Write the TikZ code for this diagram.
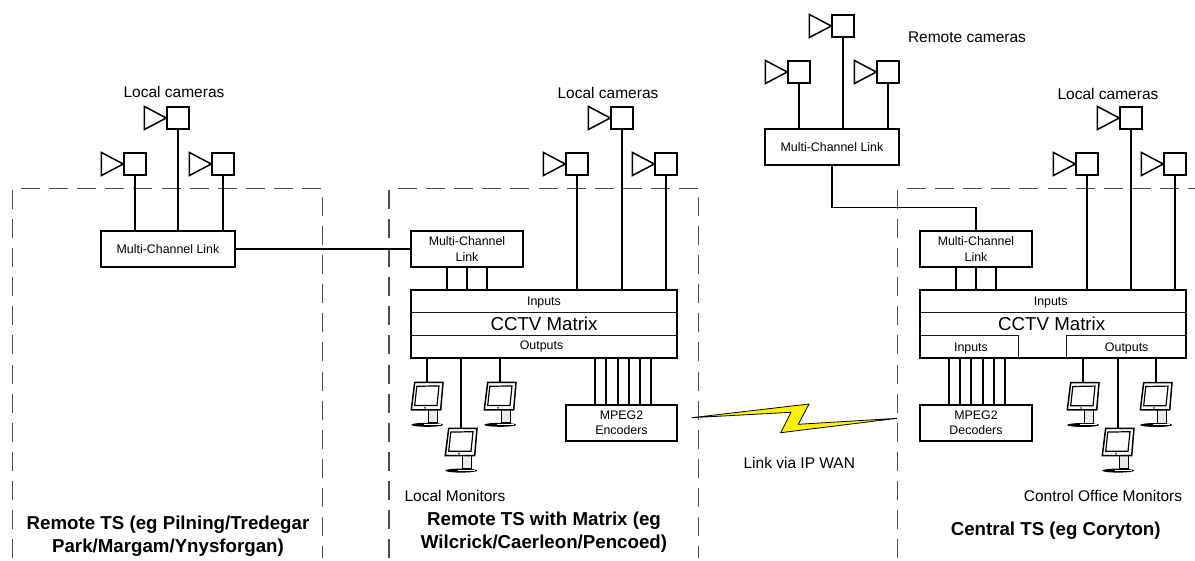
\documentclass[tikz,border=0pt]{standalone}
\usepackage{fontspec}
\setmainfont{Liberation Sans}
\usepackage{xcolor}
\usepackage{tikz}
\usetikzlibrary{positioning}

\begin{document}
\begin{tikzpicture}[x=1pt, y=-1pt,
    box/.style={rectangle, draw, line width=1.5pt, inner sep=0pt, align=center, font=\fontsize{12.4}{15.4}\selectfont},
    linkbox/.style={box, minimum width=134pt, minimum height=36pt},
    smallbox/.style={box, minimum width=112pt, minimum height=36pt},
    matrixbox/.style={box, minimum width=266pt, minimum height=68pt},
    wire/.style={line width=1.5pt},
    thinwire/.style={line width=1.1pt, black!90},
    zoneh/.style={line width=1.1pt, black!70, dash pattern=on 19pt off 9.1pt},
    zonev/.style={line width=1.1pt, black!70, dash pattern=on 19pt off 10.1pt},
    lbl/.style={inner sep=0pt, align=center, font=\fontsize{15.5}{18}\selectfont},
    band/.style={inner sep=0pt, font=\fontsize{12.4}{15}\selectfont},
    ctv/.style={inner sep=0pt, font=\fontsize{18.7}{22}\selectfont},
    title/.style={inner sep=0pt, align=center, font=\bfseries\fontsize{18.7}{22.5}\selectfont},
    cam/.style={rectangle, draw, line width=1.5pt, minimum size=22pt, inner sep=0pt,
        append after command={\pgfextra{\draw[line width=1.5pt, line join=miter]
            (\tikzlastnode.west) -- ++(-22,-11.6) -- ++(0,23.2) -- cycle;}}},
    monitor/.pic={
        \fill[black] (0.2,42.3) ellipse (16 and 2);
        \fill[white] (-3,41.8) rectangle (14,42.6);
        \draw[line width=1pt, fill=black!8] (1.7,27.3) rectangle (10.5,40.5);
        \draw[line width=1.5pt, fill=white] (-12.3,0) -- (16,0) -- (13.7,27.3) -- (-15.7,27.3) -- cycle;
        \draw[line width=1.2pt, fill=white] (-10.2,3.8) -- (12,3.4) -- (10,23) -- (-12.3,23) -- cycle;
        \fill[teal] (-2,25.3) circle (1.2);
        \coordinate (-top) at (0,0);
    }
]
\useasboundingbox (0,0) rectangle (1195,561);

% zones
\draw[zoneh] (21,188.5) -- (322,188.5);
\draw[zonev] (12.5,190) -- (12.5,558);
\draw[zonev] (322.5,197) -- (322.5,558);
\draw[zoneh] (398,188.5) -- (698,188.5);
\draw[zonev] (389,190) -- (389,558);
\draw[zonev] (698.5,197) -- (698.5,558);
\draw[zoneh] (907,188.5) -- (1195,188.5);
\draw[zonev] (897.5,190) -- (897.5,558);

% left site
\node[linkbox] (lnka) at (168,249) {Multi-Channel Link};
\node[cam] (cama) at (135,164) {};
\node[cam] (camb) at (178,118) {};
\node[cam] (camc) at (223,164) {};
\node[lbl] (loca) at (174,91.5) {Local cameras};
\foreach \c in {cama,camb,camc}
    \draw[wire] (\c.south) -- (\c.south |- lnka.north);
\node[title] (ttla) at (168,536) {Remote TS (eg Pilning/Tredegar\\Park/Margam/Ynysforgan)};

% middle site
\node[smallbox] (lnkb) at (467,249) {Multi-Channel\\Link};
\node[matrixbox] (mxa) at (544,324) {};
\node[band] (ina) at (544,302.5) {Inputs};
\node[ctv] (ctva) at (544,324) {CCTV Matrix};
\node[band] (outa) at (541.5,346.7) {Outputs};
\draw[thinwire] (mxa.west |- 0,312.5) -- (mxa.east |- 0,312.5);
\draw[thinwire] (mxa.west |- 0,335.5) -- (mxa.east |- 0,335.5);
\node[cam] (camd) at (577,164) {};
\node[cam] (came) at (622,118) {};
\node[cam] (camf) at (666,164) {};
\node[lbl] (locb) at (608,92.5) {Local cameras};
\foreach \c in {camd,came,camf}
    \draw[wire] (\c.south) -- (\c.south |- mxa.north);
\foreach \x in {447,467,487}
    \draw[wire] (\x,0 |- lnkb.south) -- (\x,0 |- mxa.north);
\draw[wire] (lnka.east) -- (lnka.east -| lnkb.west);
\node[box, minimum width=111pt, minimum height=36pt] (enc) at (621.5,423) {MPEG2\\Encoders};
\foreach \x in {595,606,618,629,640,651}
    \draw[wire] (\x,0 |- mxa.south) -- (\x,0 |- enc.north);
\pic (mona) at (427,382.5) {monitor};
\pic (monb) at (461,428.3) {monitor};
\pic (monc) at (500,382.5) {monitor};
\foreach \m in {mona,monb,monc}
    \draw[wire] (\m-top |- mxa.south) -- (\m-top);
\node[lbl] (lmon) at (455,495.7) {Local Monitors};
\node[title] (ttlb) at (544,532) {Remote TS with Matrix (eg\\Wilcrick/Caerleon/Pencoed)};

% link between sites
\draw[line width=0.8pt, fill=yellow] (691.7,417.7) -- (809,404) -- (798.3,424.3) -- (897.3,418.3)
    -- (780.7,432.7) -- (791,412.3) -- cycle;
\node[lbl] (wan) at (799.3,462.7) {Link via IP WAN};

% remote cameras
\node[linkbox] (lnkc) at (832,147) {Multi-Channel Link};
\node[cam] (camg) at (799,72) {};
\node[cam] (camh) at (843,26) {};
\node[cam] (cami) at (888,72) {};
\node[lbl] (rcam) at (967,37.7) {Remote cameras};
\foreach \c in {camg,camh,cami}
    \draw[wire] (\c.south) -- (\c.south |- lnkc.north);

% central site
\node[smallbox] (lnkd) at (976,249) {Multi-Channel\\Link};
\node[matrixbox] (mxb) at (1053,324) {};
\node[band] (inb) at (1050.7,302.5) {Inputs};
\node[ctv] (ctvb) at (1051.7,324) {CCTV Matrix};
\node[band] (inc) at (971,348.7) {Inputs};
\node[band] (outb) at (1126.7,348.7) {Outputs};
\draw[thinwire] (mxb.west |- 0,312.5) -- (mxb.east |- 0,312.5);
\draw[thinwire] (mxb.west |- 0,335.5) -- (1018.5,335.5) -- (1018.5,0 |- mxb.south);
\draw[thinwire] (mxb.east |- 0,335.5) -- (1066.5,335.5) -- (1066.5,0 |- mxb.south);
\node[cam] (camj) at (1087,164) {};
\node[cam] (camk) at (1131,118) {};
\node[cam] (caml) at (1175,164) {};
\node[lbl] (locc) at (1108,93.5) {Local cameras};
\foreach \c in {camj,camk,caml}
    \draw[wire] (\c.south) -- (\c.south |- mxb.north);
\foreach \x in {956,976,996}
    \draw[wire] (\x,0 |- lnkd.south) -- (\x,0 |- mxb.north);
\draw[wire] (lnkc.south) -- ++(0,42) -| (lnkd.north);
\node[smallbox] (dec) at (976,423) {MPEG2\\Decoders};
\foreach \x in {949,960,971,983,994,1005}
    \draw[wire] (\x,0 |- mxb.south) -- (\x,0 |- dec.north);
\pic (mond) at (1083,382.7) {monitor};
\pic (mone) at (1118,428.3) {monitor};
\pic (monf) at (1156,382.7) {monitor};
\foreach \m in {mond,mone,monf}
    \draw[wire] (\m-top |- mxb.south) -- (\m-top);
\node[lbl] (cmon) at (1103,495.7) {Control Office Monitors};
\node[title] (ttlc) at (1055.7,530.5) {Central TS (eg Coryton)};
\end{tikzpicture}
\end{document}
